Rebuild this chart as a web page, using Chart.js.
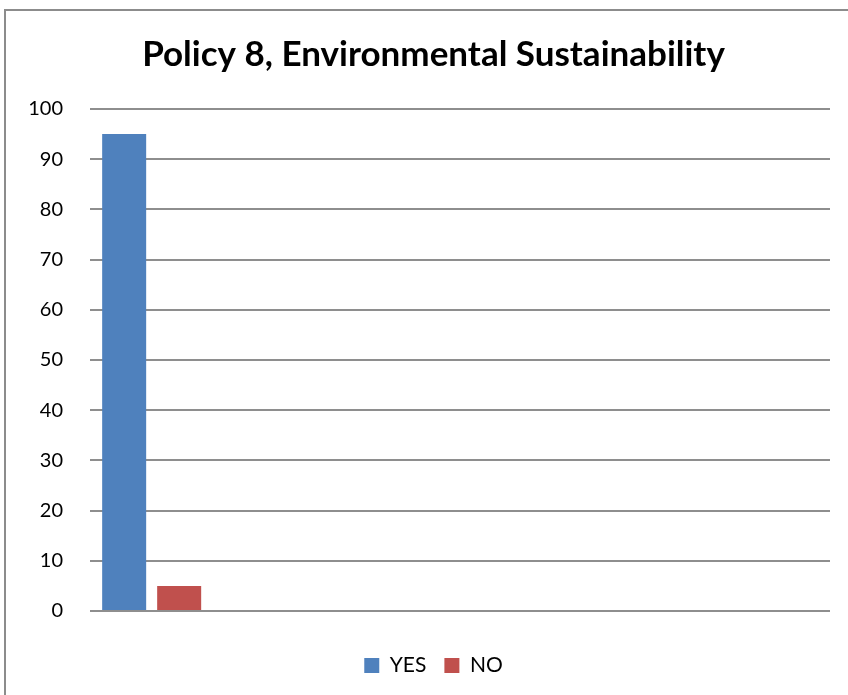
<!DOCTYPE html>
<html>
<head>
<meta charset="utf-8">
<script src="https://cdn.jsdelivr.net/npm/chart.js@4"></script>
<style>
  html, body { margin: 0; padding: 0; background: #fff; }
  #frame {
    position: absolute; left: 4px; top: 9px; width: 860px; height: 700px;
    border-left: 2px solid #8c8c8c; border-top: 2px solid #8c8c8c;
  }
  #wrap { position: absolute; left: 0; top: 0; width: 848px; height: 695px; }
</style>
</head>
<body>
<div id="frame"></div>
<div id="wrap"><canvas id="policyChart" width="848" height="695"></canvas></div>
<script>
// chart data
const categories = ['', '', '', '', '', ''];
const yesValues = [95, null, null, null, null, null];
const noValues = [5, null, null, null, null, null];
const yTicks = [0, 10, 20, 30, 40, 50, 60, 70, 80, 90, 100];

const ctx = document.getElementById('policyChart').getContext('2d');

const chart = new Chart(ctx, {
  type: 'bar',
  data: {
    labels: categories,
    datasets: [
      { label: 'YES', data: yesValues, backgroundColor: '#4F81BD' },
      { label: 'NO', data: noValues, backgroundColor: '#C0504D' }
    ]
  },
  options: {
    responsive: false,
    animation: false,
    devicePixelRatio: 1,
    categoryPercentage: 0.892,
    barPercentage: 0.8,
    layout: { padding: { left: 25, right: 6, top: 20, bottom: 9 } },
    plugins: {
      title: {
        display: true,
        text: 'Policy 8, Environmental Sustainability',
        color: '#000',
        font: { family: 'Lato', size: 35, weight: 'bold' },
        padding: { top: 14, bottom: 33 }
      },
      legend: {
        position: 'bottom',
        labels: {
          color: '#000',
          font: { family: 'Lato', size: 21 },
          boxWidth: 15,
          boxHeight: 15,
          padding: 18
        }
      },
      tooltip: { enabled: false }
    },
    scales: {
      x: {
        grid: { display: false },
        border: { display: false },
        ticks: { display: false },
        afterFit: (scale) => { scale.height = 26; }
      },
      y: {
        min: 0,
        max: 100,
        afterBuildTicks: (scale) => { scale.ticks = yTicks.map(v => ({ value: v })); },
        grid: { color: '#8e8e8e', lineWidth: 2, drawTicks: false },
        border: { display: false },
        ticks: { color: '#000', font: { family: 'Lato', size: 20 }, padding: 27 },
        afterFit: (scale) => { scale.width = 65; }
      },
      // empty spacer on the right so the title sits where the original has it
      yRight: {
        position: 'right',
        grid: { display: false },
        border: { display: false },
        ticks: { display: false },
        afterFit: (scale) => { scale.width = 12; }
      }
    }
  }
});
</script>
</body>
</html>
